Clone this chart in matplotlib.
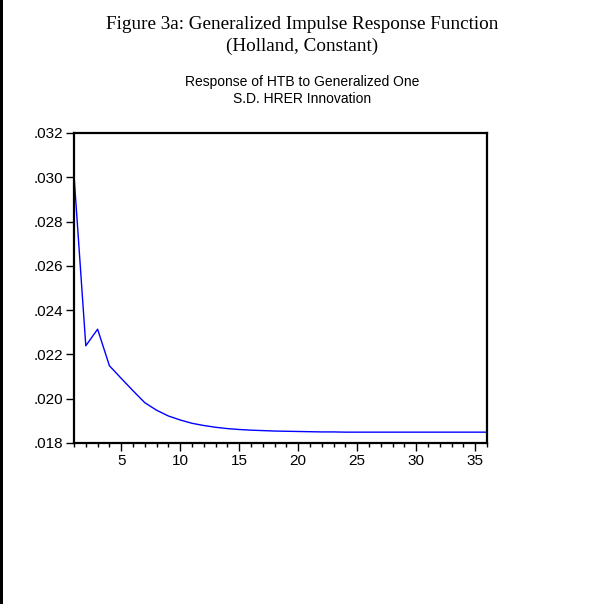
import numpy as np
import matplotlib
matplotlib.use("Agg")
import matplotlib.pyplot as plt
from matplotlib.ticker import MultipleLocator, FuncFormatter

# response of HTB to a generalized one S.D. HRER innovation, periods 1..36
periodos = list(range(1, 37))
resposta = [
    0.03010, 0.02239, 0.02314, 0.02149, 0.02092, 0.02036, 0.01982, 0.01948,
    0.01922, 0.01904, 0.01889, 0.01879, 0.01871, 0.01865, 0.01861, 0.01858,
    0.01856, 0.01854, 0.01853, 0.01852, 0.01851, 0.01850, 0.01850, 0.01849,
    0.01849, 0.01849, 0.01849, 0.01849, 0.01849, 0.01849, 0.01849, 0.01849,
    0.01849, 0.01849, 0.01849, 0.01849,
]
x_ticks = [5, 10, 15, 20, 25, 30, 35]
y_ticks = [0.018, 0.020, 0.022, 0.024, 0.026, 0.028, 0.030, 0.032]

titulo = "Figure 3a: Generalized Impulse Response Function\n(Holland, Constant)"
subtitulo = "Response of HTB to Generalized One\nS.D. HRER Innovation"

W = H = 604
fig = plt.figure(figsize=(W / 100, H / 100), dpi=100)
# axes box in pixels: left 74, right 487, top 133, bottom 443
ax = fig.add_axes([74 / W, 1 - 443 / H, (487 - 74) / W, (443 - 133) / H])

ax.plot(periodos, resposta, color="#0000ff", linewidth=1.0)

ax.set_xlim(1, 36)
ax.set_ylim(0.018, 0.032)
ax.set_xticks(x_ticks)
ax.xaxis.set_minor_locator(MultipleLocator(1))
ax.set_yticks(y_ticks)
ax.yaxis.set_major_formatter(FuncFormatter(lambda v, p: f"{v:.3f}".lstrip("0")))

for s in ax.spines.values():
    s.set_linewidth(1.6)
    s.set_color("black")

ax.tick_params(axis="both", which="major", direction="out", length=6, width=1,
               labelsize=11, pad=2, colors="black")
ax.tick_params(axis="x", which="minor", direction="out", length=3, width=1)
ax.tick_params(axis="y", which="minor", left=False)
for lab in ax.get_xticklabels() + ax.get_yticklabels():
    lab.set_fontfamily("Liberation Sans")

fig.text(0.5, 1 - 35.5 / H, titulo, ha="center", va="center",
         fontfamily="Liberation Serif", fontsize=13.8, linespacing=1.42)
fig.text(0.5, 1 - 90.5 / H, subtitulo, ha="center", va="center",
         fontfamily="Liberation Sans", fontsize=10, linespacing=1.3)

# black border strip at the left edge of the page
fig.add_artist(plt.Rectangle((0, 0), 3 / W, 1, transform=fig.transFigure,
                             color="black", linewidth=0))

fig.savefig("out.png", dpi=100, facecolor="white")
